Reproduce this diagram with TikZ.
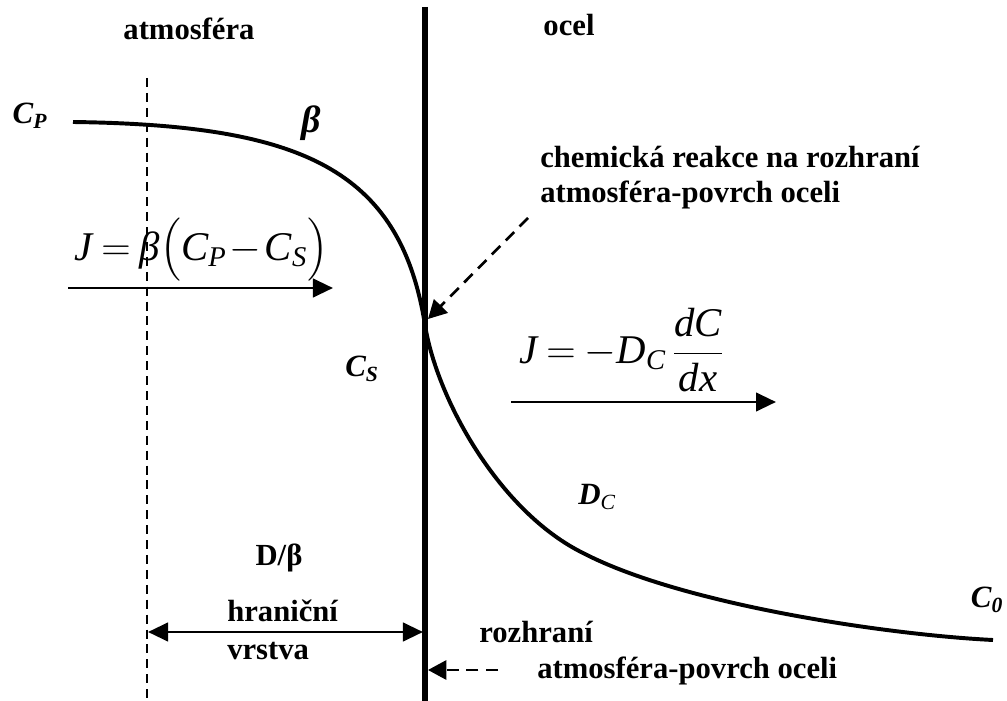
\documentclass[tikz,border=0pt]{standalone}
\usepackage{fix-cm}
\usepackage{amsmath}
\usepackage{fontspec}
\setmainfont{Liberation Serif}
\usetikzlibrary{positioning, arrows.meta, calc}

\newcommand{\mi}[1]{\textit{#1}}
\newcommand{\tightmath}{\medmuskip=1.5mu \thickmuskip=4mu \relax}

\begin{document}
\begin{tikzpicture}[
        x=0.025cm, y=-0.025cm,
        lbl/.style={font=\fontsize{21.8}{25}\selectfont\bfseries, inner sep=0pt},
        sym/.style={font=\fontsize{22}{26}\selectfont\bfseries\itshape, inner sep=0pt},
        eq/.style={font=\fontsize{29}{34}\selectfont, inner sep=0pt},
        arr/.style={-{Triangle[length=0.5cm, width=0.46cm]}, line width=2.1pt},
        dasharr/.style={-{Triangle[length=0.46cm, width=0.48cm]}, line width=1.9pt, dash pattern=on 8.5pt off 5.5pt},
        wall/.style={line width=4.3pt},
        layer/.style={line width=1.6pt, dash pattern=on 6.4pt off 4.2pt},
        profile/.style={line width=2.8pt}
    ]
        \useasboundingbox (0,0) rectangle (1007,701);

        % Phase labels
        \node[lbl] (atm) at (189,29) {atmosféra};
        \node[lbl] (ocel) at (569,25) {ocel};

        % Boundary layer and interface
        \coordinate (btop) at (147,78);
        \coordinate (bbot) at (147,701);
        \coordinate (wtop) at (425,7);
        \coordinate (wbot) at (425,701);
        \draw[layer] (btop) -- (bbot);

        % Concentration profile
        \coordinate (pstart) at (73,122);
        \coordinate (psurf) at (425,325);
        \coordinate (pmid) at (583,553);
        \coordinate (pend) at (993,640);
        \draw[profile] (pstart) .. controls (300,125) and (400,168) .. (psurf)
            .. controls (437,400) and (500,512) .. (pmid)
            .. controls (683,605) and (890,635) .. (pend);
        \draw[wall] (wtop) -- (wbot);

        % Concentrations
        \node[sym] (cp) at (30,116) {$\text{C}_{\text{P}}$};
        \node[sym, font=\fontsize{27}{30}\selectfont\bfseries\itshape] (beta) at (311,123) {β};
        \node[sym] (cs) at (362,369) {$\text{C}_{\text{S}}$};
        \node[sym] (dc) at (597,497) {$\text{D}_{\text{\mdseries C}}$};
        \node[sym] (c0) at (987,600) {$\text{C}_{\text{0}}$};

        % Fluxes
        \node[eq, anchor=west] (eqbeta) at (74,250) {$\tightmath \mi{J} = \mi{β}\bigl(\mi{C}_{\mi{P}} - \mi{C}_{\mi{S}}\bigr)$};
        \coordinate (fa) at (68,288);
        \coordinate (fb) at (333,288);
        \draw[arr] (fa) -- (fb);
        \node[eq, anchor=west] (eqdiff) at (519,350) {$\tightmath \mi{J} = -\mi{D}_{\mi{C}}\,\dfrac{\mi{dC}}{\mi{dx}}$};
        \coordinate (fc) at (511,402);
        \coordinate (fd) at (776,402);
        \draw[arr] (fc) -- (fd);

        % Chemical reaction at the interface
        \node[lbl, anchor=west, align=left] (chem) at (540,178) {chemická reakce na rozhraní\\atmosféra-povrch oceli};
        \coordinate (chemtail) at (528,218);
        \coordinate (chemtip) at (428,319);
        \draw[dasharr] (chemtail) -- (chemtip);

        % Boundary layer thickness
        \node[lbl] (dbeta) at (279,558) {D/β};
        \node[lbl, anchor=west, align=left, font=\fontsize{21.8}{27}\selectfont\bfseries] (hran) at (227,630) {hraniční\\vrstva};
        \coordinate (la) at (148,632);
        \coordinate (lb) at (423,632);
        \draw[arr, {Triangle[length=0.5cm, width=0.46cm]}-{Triangle[length=0.5cm, width=0.46cm]}] (la) -- (lb);

        % Interface label
        \node[lbl, anchor=west] (rozh) at (479,632) {rozhraní};
        \node[lbl, anchor=west] (rozhdesc) at (537,671) {atmosféra-povrch oceli};
        \coordinate (rtip) at (428,670);
        \draw[dasharr] ($(rozhdesc.west)+(-39,-1)$) -- (rtip);
    \end{tikzpicture}
\end{document}
